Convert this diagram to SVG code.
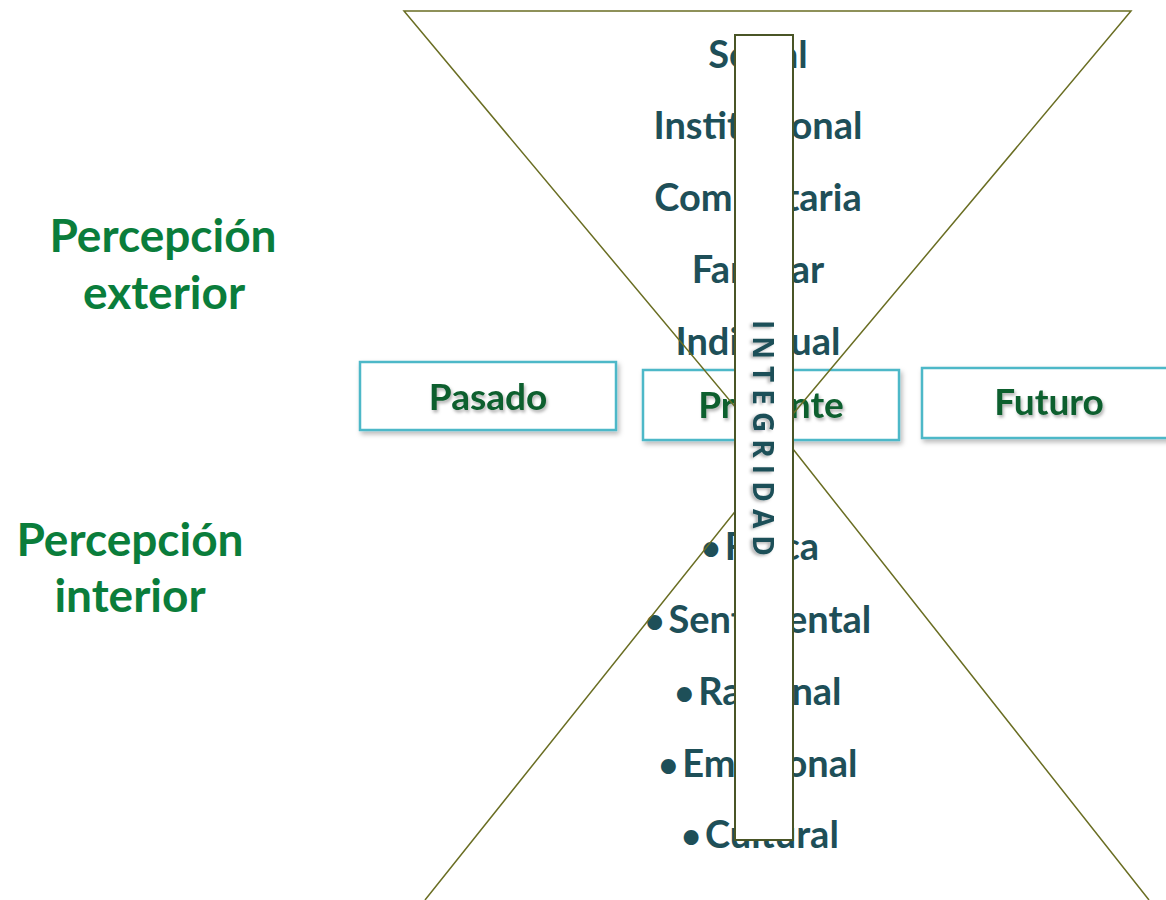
<svg xmlns="http://www.w3.org/2000/svg" width="1166" height="900" viewBox="0 0 1166 900">
<defs>
<filter id="sh" x="-10%" y="-20%" width="130%" height="150%"><feDropShadow dx="2" dy="3" stdDeviation="2.5" flood-color="#000" flood-opacity="0.28"/></filter>
<filter id="tsh" x="-10%" y="-20%" width="130%" height="150%"><feDropShadow dx="1.5" dy="2.5" stdDeviation="1.5" flood-color="#000" flood-opacity="0.3"/></filter>
<style>
.lvl{font-family:Lato,"Open Sans",sans-serif;font-weight:bold;font-size:38px;fill:#1e4f58;text-anchor:middle}
.bul{font-size:34px}
.lbl{font-family:Lato,"Open Sans",sans-serif;font-weight:bold;font-size:46px;fill:#0a7d3b;text-anchor:middle}
.box{fill:#fff;stroke:#4db8c8;stroke-width:2.5}
.btxt{font-family:Lato,"Open Sans",sans-serif;font-weight:bold;font-size:37px;fill:#0b5e2f;text-anchor:middle}
.ln{fill:none;stroke:#6a6e23;stroke-width:1.5}
</style>
</defs>
<rect width="1166" height="900" fill="#fff"/>
<g id="labels">
<text class="lbl" x="163" y="252">Percepción</text>
<text class="lbl" x="164" y="309">exterior</text>
<text class="lbl" x="130" y="556">Percepción</text>
<text class="lbl" x="130" y="612">interior</text>
</g>
<g id="exterior-levels">
<text class="lvl" x="758" y="68">Social</text>
<text class="lvl" x="758" y="139">Institucional</text>
<text class="lvl" x="758" y="211">Comunitaria</text>
<text class="lvl" x="758" y="283">Familiar</text>
<text class="lvl" x="758" y="355">Individual</text>
</g>
<g id="interior-levels">
<text class="lvl" x="760" y="560"><tspan class="bul">•</tspan><tspan dx="4">Física</tspan></text>
<text class="lvl" x="758" y="633"><tspan class="bul">•</tspan><tspan dx="4">Sentimental</tspan></text>
<text class="lvl" x="758" y="705"><tspan class="bul">•</tspan><tspan dx="4">Racional</tspan></text>
<text class="lvl" x="758" y="777"><tspan class="bul">•</tspan><tspan dx="4">Emocional</tspan></text>
<text class="lvl" x="760" y="848"><tspan class="bul">•</tspan><tspan dx="4">Cultural</tspan></text>
</g>
<g id="pasado">
<rect class="box" x="360" y="362" width="256" height="68" filter="url(#sh)"/>
<text class="btxt" x="488" y="410" filter="url(#tsh)">Pasado</text>
</g>
<g id="presente">
<rect class="box" x="643" y="370" width="256" height="70" filter="url(#sh)"/>
<text class="btxt" x="771" y="418" filter="url(#tsh)">Presente</text>
</g>
<g id="futuro">
<rect class="box" x="922" y="368" width="256" height="70" filter="url(#sh)"/>
<text class="btxt" x="1049" y="415" filter="url(#tsh)">Futuro</text>
</g>
<g id="connectors">
<polyline class="ln" points="767,445 404,11 1131,11 767,445"/>
<polyline class="ln" points="425,900 789,444 1149,900"/>
</g>
<g id="integridad">
<rect x="735" y="35" width="58" height="805" fill="#fff" stroke="#4a5526" stroke-width="2"/>
<text transform="translate(753,438) rotate(90)" x="0" y="0" text-anchor="middle" font-family="'Open Sans',Lato,sans-serif" font-weight="bold" font-size="28" fill="#1e4f58" textLength="236" lengthAdjust="spacing" filter="url(#tsh)">INTEGRIDAD</text>
</g>
</svg>
